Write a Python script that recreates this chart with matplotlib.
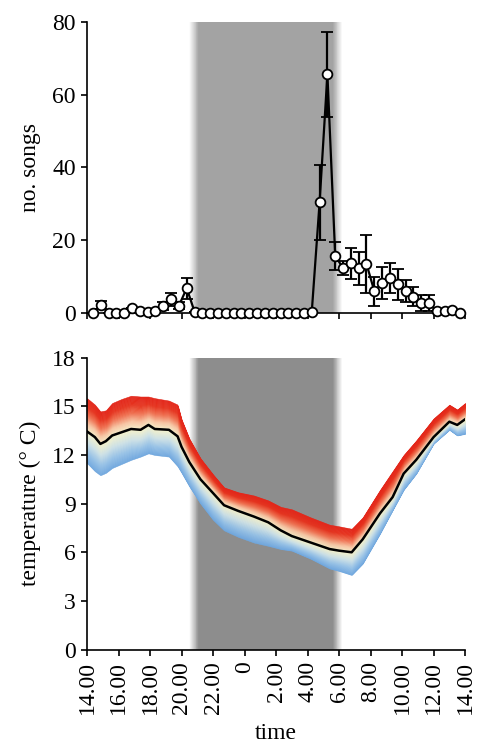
import numpy as np
import matplotlib
matplotlib.use("Agg")
import matplotlib.pyplot as plt
from matplotlib.colors import LinearSegmentedColormap

plt.rcParams['font.family'] = ['Liberation Serif', 'DejaVu Serif']
plt.rcParams['font.size'] = 17

# hours after 14.00
tick_hours = [0, 2, 4, 6, 8, 10, 12, 14, 16, 18, 20, 22, 24]
tick_labels = ['14.00', '16.00', '18.00', '20.00', '22.00', '0', '2.00',
               '4.00', '6.00', '8.00', '10.00', '12.00', '14.00']

# song counts, half-hour bins
song_time = 0.38 + 0.496 * np.arange(48)
songs = [0, 2.2, 0, 0, 0, 1.3, 0.5, 0.3, 0.6, 1.9, 3.8, 2.0, 6.8, 0.3,
         0, 0, 0, 0, 0, 0, 0, 0, 0, 0, 0, 0, 0, 0, 0.3,
         30.4, 65.6, 15.7, 12.3, 13.6, 12.3, 13.5, 6.0, 8.3, 9.5, 7.9,
         6.0, 4.5, 2.7, 2.7, 0.4, 0.4, 0.8, 0]
song_err = [0, 1.1, 0, 0, 0, 0, 0, 0, 0, 1.2, 1.8, 1.0, 2.9, 0,
            0, 0, 0, 0, 0, 0, 0, 0, 0, 0, 0, 0, 0, 0, 0,
            10.3, 11.6, 3.8, 2.0, 4.3, 4.5, 8.0, 4.0, 4.4, 4.1, 4.3,
            3.0, 2.5, 2.2, 2.2, 0, 0, 0, 0]

# temperature
temp_time = [0, 0.5, 0.85, 1.2, 1.6, 2.2, 2.8, 3.4, 3.9, 4.3, 5.2, 5.75, 6.0,
             6.5, 7.2, 8.0, 8.7, 9.6, 10.6, 11.5, 12.3, 13.0, 14.2, 15.4,
             16.0, 16.8, 17.5, 18.6, 19.4, 20.1, 20.9, 22.0, 23.0, 23.5, 24.0]
temp_mean = [13.45, 13.1, 12.68, 12.85, 13.2, 13.4, 13.6, 13.55, 13.85, 13.6,
             13.55, 13.15, 12.5, 11.55, 10.5, 9.65, 8.9, 8.55, 8.2, 7.85,
             7.35, 7.0, 6.6, 6.2, 6.1, 6.0, 6.8, 8.4, 9.4, 10.85, 11.7,
             13.1, 14.05, 13.85, 14.2]
temp_upper = [15.5, 15.1, 14.68, 14.75, 15.2, 15.45, 15.65, 15.6, 15.6, 15.5,
              15.35, 15.1, 14.2, 13.0, 11.8, 10.8, 10.0, 9.7, 9.5, 9.2, 8.8,
              8.65, 8.15, 7.7, 7.6, 7.45, 8.15, 9.85, 11.0, 12.0, 12.9,
              14.25, 15.1, 14.8, 15.2]
temp_lower = [11.5, 11.0, 10.75, 10.9, 11.2, 11.45, 11.7, 11.9, 12.1, 12.0,
              11.9, 11.3, 10.9, 10.05, 9.0, 8.0, 7.35, 6.95, 6.6, 6.4, 6.2,
              6.1, 5.6, 5.0, 4.85, 4.6, 5.3, 7.15, 8.6, 9.85, 10.85, 12.7,
              13.55, 13.2, 13.3]

dark_start, dark_end = 7.1, 15.6


def shade(ax, color, fade=0.6, n=20):
    ax.axvspan(dark_start, dark_end, color=color, lw=0, zorder=0)
    edges = np.linspace(0, fade, n + 1)
    for i in range(n):
        a = 1 - (i + 0.5) / n
        ax.axvspan(dark_start - edges[i + 1], dark_start - edges[i],
                   color=color, alpha=a, lw=0, zorder=0)
        ax.axvspan(dark_end + edges[i], dark_end + edges[i + 1],
                   color=color, alpha=a, lw=0, zorder=0)


def style(ax):
    for s in ['top', 'right']:
        ax.spines[s].set_visible(False)
    for s in ['left', 'bottom']:
        ax.spines[s].set_linewidth(1.2)
    ax.tick_params(direction='out', length=4, width=1.2, pad=4)
    ax.set_xlim(0, 24)
    ax.set_xticks(tick_hours)


fig = plt.figure(figsize=(4.78, 7.45), dpi=100)
ax1 = fig.add_axes([0.182, 0.58, 0.791, 0.3905])
ax2 = fig.add_axes([0.182, 0.128, 0.791, 0.392])

# top panel
style(ax1)
shade(ax1, '#a3a3a3')
ax1.set_ylim(0, 80)
ax1.set_yticks([0, 20, 40, 60, 80])
ax1.set_xticklabels([])
songs_a = np.array(songs)
err_a = np.array(song_err)
lower_err = np.minimum(err_a, songs_a)
eb = ax1.errorbar(song_time, songs, yerr=[lower_err, err_a], fmt='-o',
                  color='black', lw=1.6, elinewidth=1.6, capsize=4.5,
                  capthick=1.6, ms=7, mfc='white', mec='black', mew=1.3,
                  zorder=3)
eb[0].set_clip_on(False)
ax1.set_ylabel('no. songs', labelpad=8)

# bottom panel
style(ax2)
shade(ax2, '#8d8d8d')
ax2.set_ylim(0, 18)
ax2.set_yticks([0, 3, 6, 9, 12, 15, 18])

tt = np.linspace(0, 24, 600)
mean_f = np.interp(tt, temp_time, temp_mean)
up_f = np.interp(tt, temp_time, temp_upper)
lo_f = np.interp(tt, temp_time, temp_lower)
cm_hi = LinearSegmentedColormap.from_list(
    'hi', ['#f4f1cc', '#f7c4a2', '#f07050', '#e6341f', '#e3261a'])
cm_lo = LinearSegmentedColormap.from_list(
    'lo', ['#6ea6de', '#96c1e6', '#cde1e6', '#f4f1cc'])
n = 30
for i in range(n):
    f0, f1 = i / n, (i + 1) / n
    c = cm_lo((i + 0.5) / n)
    ax2.fill_between(tt, lo_f + (mean_f - lo_f) * f0, lo_f + (mean_f - lo_f) * f1,
                     color=c, lw=0.4, zorder=1)
    c = cm_hi((i + 0.5) / n)
    ax2.fill_between(tt, mean_f + (up_f - mean_f) * f0, mean_f + (up_f - mean_f) * f1,
                     color=c, lw=0.4, zorder=1)
ax2.plot(temp_time, temp_mean, color='black', lw=1.8, zorder=2)
ax2.set_xticklabels(tick_labels, rotation=90)
ax2.set_ylabel('temperature (° C)', labelpad=8)
ax2.set_xlabel('time', labelpad=7)

fig.savefig('out.png', dpi=100)
